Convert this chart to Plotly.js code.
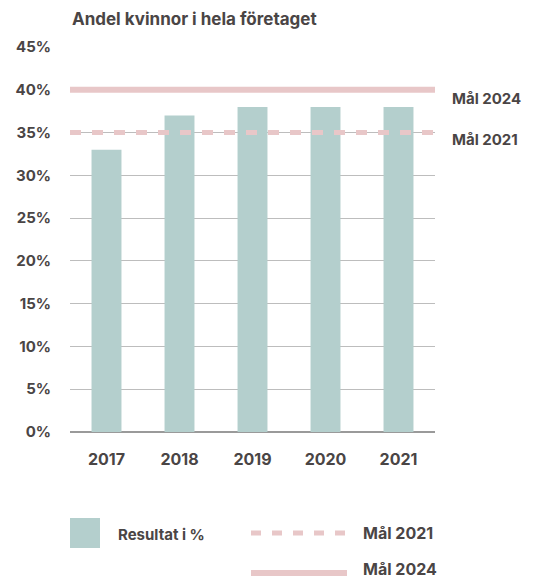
<!DOCTYPE html>
<html>
<head>
<meta charset="utf-8">
<script src="https://cdn.plot.ly/plotly-3.0.1.min.js"></script>
<style>html,body{margin:0;padding:0;background:#fff}#chart{width:539px;height:579px}</style>
</head>
<body>
<div id="chart"></div>
<script>
const years = ['2017', '2018', '2019', '2020', '2021'];
const resultat = [33, 37, 38, 38, 38];
const targetNames = ['Mål 2024', 'Mål 2021'];
const targetValues = [40, 35];
const yTicks = [0, 5, 10, 15, 20, 25, 30, 35, 40, 45];
const yTickLabels = ['0%', '5%', '10%', '15%', '20%', '25%', '30%', '35%', '40%', '45%'];
const titleText = 'Andel kvinnor i hela företaget';
const barLegend = 'Resultat i %';

const TEXT = '#4a4545';
const BAR = '#b4cfcd';
const PINK = '#e8c7c8';
const FONT = 'Inter, Lato, sans-serif';

const shapes = [
  {type:'line', xref:'paper', yref:'y', x0:0, x1:1, y0:targetValues[0], y1:targetValues[0],
   line:{color:PINK, width:6}, layer:'above'},
  {type:'line', xref:'paper', yref:'y', x0:0, x1:1, y0:targetValues[1], y1:targetValues[1],
   line:{color:PINK, width:5, dash:'11px,11px'}, layer:'above'},
  {type:'rect', xref:'paper', yref:'paper', x0:0, x1:30/365, y0:-116/385, y1:-86/385,
   fillcolor:BAR, line:{width:0}},
  {type:'line', xref:'paper', yref:'paper', x0:181/365, x1:277/365, y0:-101/385, y1:-101/385,
   line:{color:PINK, width:5, dash:'10px,11px'}},
  {type:'line', xref:'paper', yref:'paper', x0:181/365, x1:277/365, y0:-141/385, y1:-141/385,
   line:{color:PINK, width:6}}
];

const annotations = [
  {xref:'paper', yref:'y', x:1, y:targetValues[0], xanchor:'left', yanchor:'middle', xshift:15, yshift:-9,
   text:'<b>'+targetNames[0]+'</b>', showarrow:false, font:{family:FONT, size:15, color:TEXT}},
  {xref:'paper', yref:'y', x:1, y:targetValues[1], xanchor:'left', yanchor:'middle', xshift:15, yshift:-7,
   text:'<b>'+targetNames[1]+'</b>', showarrow:false, font:{family:FONT, size:15, color:TEXT}},
  {xref:'paper', yref:'paper', x:46/365, y:-102/385, xanchor:'left', yanchor:'middle',
   text:'<b>'+barLegend+'</b>', showarrow:false, font:{family:FONT, size:15, color:TEXT}},
  {xref:'paper', yref:'paper', x:291/365, y:-101/385, xanchor:'left', yanchor:'middle',
   text:'<b>'+targetNames[1]+'</b>', showarrow:false, font:{family:FONT, size:16, color:TEXT}},
  {xref:'paper', yref:'paper', x:291/365, y:-137/385, xanchor:'left', yanchor:'middle',
   text:'<b>'+targetNames[0]+'</b>', showarrow:false, font:{family:FONT, size:16, color:TEXT}}
];

const data = [{
  type:'bar', x:years, y:resultat, marker:{color:BAR}, name:barLegend, hoverinfo:'x+y'
}];

const layout = {
  width:539, height:579,
  margin:{l:70, r:104, t:47, b:147, pad:0},
  paper_bgcolor:'#fff', plot_bgcolor:'#fff',
  showlegend:false,
  bargap:0.59,
  title:{text:'<b>'+titleText+'</b>', x:72/539, xanchor:'left', y:1-19/579, yanchor:'middle',
         font:{family:FONT, size:17, color:TEXT}},
  xaxis:{type:'category', showgrid:false, showline:false, zeroline:false,
         ticks:'outside', ticklen:13, tickcolor:'rgba(0,0,0,0)',
         tickfont:{family:FONT, size:16, color:TEXT, weight:'bold'}},
  yaxis:{range:[0,45], tickvals:yTicks, ticktext:yTickLabels, showgrid:true, gridcolor:'#bdbdbd', gridwidth:1,
         zeroline:true, zerolinecolor:'#9a9a9a', zerolinewidth:1.5, showline:false,
         ticks:'outside', ticklen:15, tickcolor:'rgba(0,0,0,0)',
         tickfont:{family:FONT, size:15, color:TEXT, weight:'bold'}},
  shapes:shapes,
  annotations:annotations
};

Plotly.newPlot('chart', data, layout, {displayModeBar:false, staticPlot:true});
</script>
</body>
</html>
